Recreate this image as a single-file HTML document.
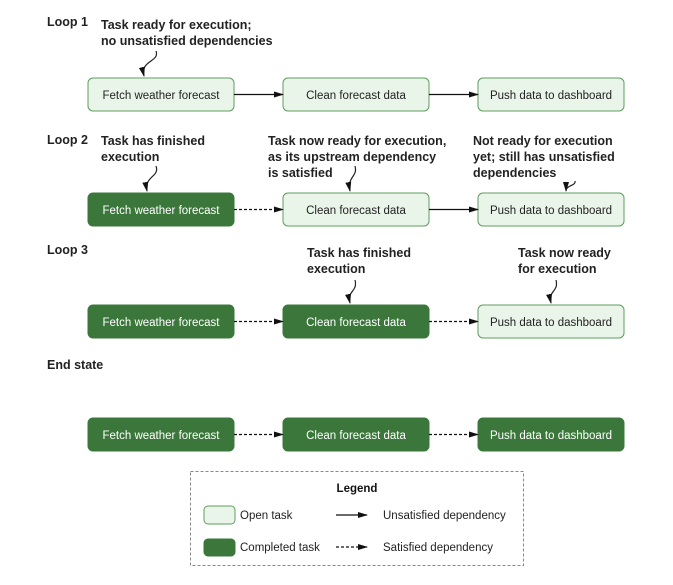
<!DOCTYPE html>
<html><head><style>
body{margin:0;background:#fff}
svg{display:block}
text{font-family:"Liberation Sans",sans-serif}
.b{font-weight:bold;font-size:12.5px;fill:#222}
.t{font-size:11.5px}
</style></head><body>
<svg width="673" height="585" viewBox="0 0 673 585" xmlns="http://www.w3.org/2000/svg">
<defs>
<marker id="a" markerWidth="10" markerHeight="8" refX="9" refY="4" orient="auto" markerUnits="userSpaceOnUse"><path d="M0,1 L10,4 L0,7z" fill="#111"/></marker>
</defs>
<g class="b">
<text x="47" y="26">Loop 1</text>
<text x="101" y="29">Task ready for execution;</text>
<text x="101" y="45">no unsatisfied dependencies</text>
<text x="47" y="144">Loop 2</text>
<text x="101" y="145">Task has finished</text>
<text x="101" y="161">execution</text>
<text x="268" y="145">Task now ready for execution,</text>
<text x="268" y="161">as its upstream dependency</text>
<text x="268" y="177">is satisfied</text>
<text x="473" y="145">Not ready for execution</text>
<text x="473" y="161">yet; still has unsatisfied</text>
<text x="473" y="177">dependencies</text>
<text x="47" y="254">Loop 3</text>
<text x="307" y="257">Task has finished</text>
<text x="307" y="273">execution</text>
<text x="518" y="257">Task now ready</text>
<text x="518" y="273">for execution</text>
<text x="47" y="369">End state</text>
</g>
<g fill="none" stroke="#222" stroke-width="1.2" marker-end="url(#a)">
<path d="M156,51 C160,62 140,60 144,76"/>
<path d="M156,166 C160,177 144,176 147,191"/>
<path d="M355,166 C358,177 347,176 350,191"/>
<path d="M575,181 C576,186 566,185 566,191"/>
<path d="M355,280 C358,292 347,290 350,303"/>
<path d="M556,280 C559,292 548,290 551,303"/>
</g>
<g class="t" text-anchor="middle">
<!-- row 1 -->
<rect x="88" y="78" width="146" height="33" rx="5" fill="#eaf5ea" stroke="#5d9d5d"/>
<rect x="283" y="78" width="146" height="33" rx="5" fill="#eaf5ea" stroke="#5d9d5d"/>
<rect x="478" y="78" width="146" height="33" rx="5" fill="#eaf5ea" stroke="#5d9d5d"/>
<text x="161" y="99" fill="#222">Fetch weather forecast</text>
<text x="356" y="99" fill="#222">Clean forecast data</text>
<text x="551" y="99" fill="#222">Push data to dashboard</text>
<!-- row 2 -->
<rect x="88" y="193" width="146" height="33" rx="5" fill="#3b773b" stroke="#3b773b"/>
<rect x="283" y="193" width="146" height="33" rx="5" fill="#eaf5ea" stroke="#5d9d5d"/>
<rect x="478" y="193" width="146" height="33" rx="5" fill="#eaf5ea" stroke="#5d9d5d"/>
<text x="161" y="214" fill="#fff">Fetch weather forecast</text>
<text x="356" y="214" fill="#222">Clean forecast data</text>
<text x="551" y="214" fill="#222">Push data to dashboard</text>
<!-- row 3 -->
<rect x="88" y="305" width="146" height="33" rx="5" fill="#3b773b" stroke="#3b773b"/>
<rect x="283" y="305" width="146" height="33" rx="5" fill="#3b773b" stroke="#3b773b"/>
<rect x="478" y="305" width="146" height="33" rx="5" fill="#eaf5ea" stroke="#5d9d5d"/>
<text x="161" y="326" fill="#fff">Fetch weather forecast</text>
<text x="356" y="326" fill="#fff">Clean forecast data</text>
<text x="551" y="326" fill="#222">Push data to dashboard</text>
<!-- row 4 -->
<rect x="88" y="418" width="146" height="33" rx="5" fill="#3b773b" stroke="#3b773b"/>
<rect x="283" y="418" width="146" height="33" rx="5" fill="#3b773b" stroke="#3b773b"/>
<rect x="478" y="418" width="146" height="33" rx="5" fill="#3b773b" stroke="#3b773b"/>
<text x="161" y="439" fill="#fff">Fetch weather forecast</text>
<text x="356" y="439" fill="#fff">Clean forecast data</text>
<text x="551" y="439" fill="#fff">Push data to dashboard</text>
</g>
<g stroke="#111" stroke-width="1.2" marker-end="url(#a)">
<line x1="234" y1="94.5" x2="283" y2="94.5"/>
<line x1="429" y1="94.5" x2="478" y2="94.5"/>
<line x1="234" y1="209.5" x2="283" y2="209.5" stroke-dasharray="3,2"/>
<line x1="429" y1="209.5" x2="478" y2="209.5"/>
<line x1="234" y1="321.5" x2="283" y2="321.5" stroke-dasharray="3,2"/>
<line x1="429" y1="321.5" x2="478" y2="321.5" stroke-dasharray="3,2"/>
<line x1="234" y1="434.5" x2="283" y2="434.5" stroke-dasharray="3,2"/>
<line x1="429" y1="434.5" x2="478" y2="434.5" stroke-dasharray="3,2"/>
<line x1="336" y1="515" x2="367" y2="515"/>
<line x1="336" y1="547" x2="367" y2="547" stroke-dasharray="3,2"/>
</g>
<rect x="190.5" y="471.5" width="333" height="94" fill="none" stroke="#888" stroke-dasharray="3,2"/>
<text x="357" y="492" text-anchor="middle" font-weight="bold" font-size="11.5" fill="#111">Legend</text>
<rect x="204" y="506" width="31" height="18" rx="4" fill="#eaf5ea" stroke="#5d9d5d"/>
<rect x="204" y="539" width="31" height="17" rx="4" fill="#3b773b" stroke="#3b773b"/>
<g font-size="11.5" fill="#222">
<text x="240" y="519">Open task</text>
<text x="240" y="551">Completed task</text>
<text x="383" y="519">Unsatisfied dependency</text>
<text x="383" y="551">Satisfied dependency</text>
</g>
</svg>
</body></html>
